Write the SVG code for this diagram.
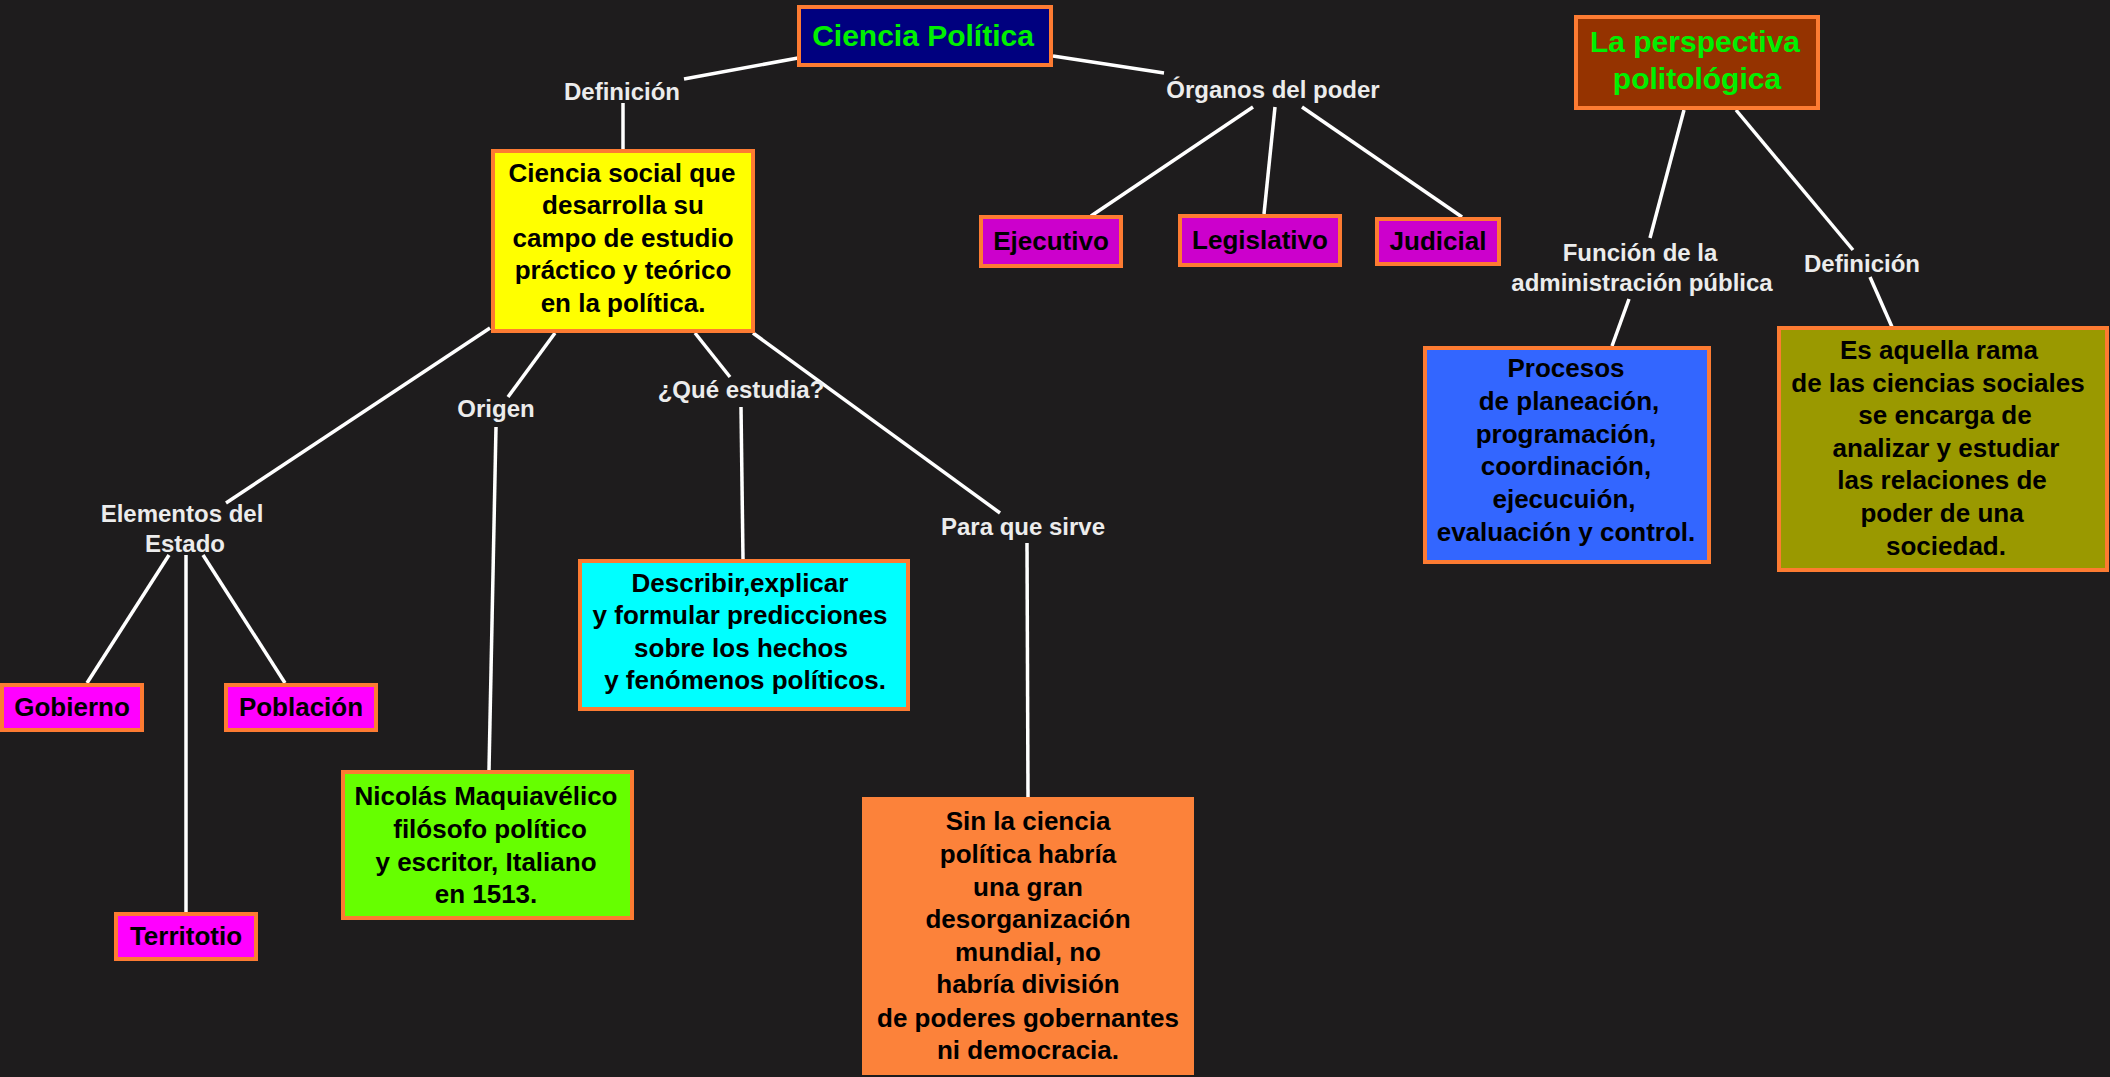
<svg xmlns="http://www.w3.org/2000/svg" width="2110" height="1077" viewBox="0 0 2110 1077">
<style>
.bg{fill:#1e1c1d}
.box{stroke:#fd7b32;stroke-width:4}
.t{font-family:"Liberation Sans",Arial,sans-serif;font-weight:bold;font-size:26px;fill:#000;text-anchor:middle}
.title{font-family:"Liberation Sans",Arial,sans-serif;font-weight:bold;font-size:30px;fill:#00f000;text-anchor:middle}
.lbl{font-family:"Liberation Sans",Arial,sans-serif;font-weight:bold;font-size:24px;fill:#ececec;text-anchor:middle}
.c line{stroke:#fff;stroke-width:3.5;stroke-linecap:butt}
</style>
<rect class="bg" x="0" y="0" width="2110" height="1077"/>
<g class="c" id="connectors">
<line x1="798" y1="58" x2="684" y2="79"/>
<line x1="623" y1="103" x2="623" y2="149"/>
<line x1="1053" y1="56" x2="1164" y2="73"/>
<line x1="1253" y1="107" x2="1091" y2="216"/>
<line x1="1275" y1="107" x2="1264" y2="214"/>
<line x1="1302" y1="107" x2="1462" y2="217"/>
<line x1="1684" y1="110" x2="1650" y2="238"/>
<line x1="1629" y1="299" x2="1612" y2="346"/>
<line x1="1736" y1="110" x2="1853" y2="250"/>
<line x1="1870" y1="277" x2="1892" y2="327"/>
<line x1="490" y1="328" x2="226" y2="503"/>
<line x1="555" y1="333" x2="508" y2="397"/>
<line x1="496" y1="427" x2="489" y2="770"/>
<line x1="695" y1="333" x2="730" y2="377"/>
<line x1="741" y1="407" x2="743" y2="559"/>
<line x1="753" y1="333" x2="1000" y2="513"/>
<line x1="1027" y1="543" x2="1028" y2="797"/>
<line x1="169" y1="555" x2="87" y2="683"/>
<line x1="186" y1="555" x2="186" y2="912"/>
<line x1="203" y1="555" x2="285" y2="683"/>
</g>
<g id="labels">
<text class="lbl" x="622" y="100">Definición</text>
<text class="lbl" x="1273" y="98">Órganos del poder</text>
<text class="lbl" x="1640" y="261">Función de la</text>
<text class="lbl" x="1642" y="291">administración pública</text>
<text class="lbl" x="1862" y="272">Definición</text>
<text class="lbl" x="182" y="522">Elementos del</text>
<text class="lbl" x="185" y="552">Estado</text>
<text class="lbl" x="496" y="417">Origen</text>
<text class="lbl" x="741" y="398">¿Qué estudia?</text>
<text class="lbl" x="1023" y="535">Para que sirve</text>
</g>
<g id="ciencia-politica">
<rect class="box" x="799" y="7" width="252" height="58" fill="#00007f"/>
<text class="title" x="923" y="46">Ciencia Política</text>
</g>
<g id="definicion-box">
<rect class="box" x="493" y="151" width="260" height="180" fill="#ffff00"/>
<text class="t" x="622" y="182">Ciencia social que</text>
<text class="t" x="623" y="214">desarrolla su</text>
<text class="t" x="623" y="247">campo de estudio</text>
<text class="t" x="623" y="279">práctico y teórico</text>
<text class="t" x="623" y="312">en la política.</text>
</g>
<g id="ejecutivo">
<rect class="box" x="981" y="217" width="140" height="49" fill="#cc00cc"/>
<text class="t" x="1051" y="250">Ejecutivo</text>
</g>
<g id="legislativo">
<rect class="box" x="1180" y="216" width="160" height="49" fill="#cc00cc"/>
<text class="t" x="1260" y="249">Legislativo</text>
</g>
<g id="judicial">
<rect class="box" x="1377" y="219" width="122" height="45" fill="#cc00cc"/>
<text class="t" x="1438" y="250">Judicial</text>
</g>
<g id="perspectiva">
<rect class="box" x="1576" y="17" width="242" height="91" fill="#953300"/>
<text class="title" x="1695" y="52">La perspectiva</text>
<text class="title" x="1697" y="89">politológica</text>
</g>
<g id="procesos">
<rect class="box" x="1425" y="348" width="284" height="214" fill="#3366ff"/>
<text class="t" x="1566" y="377">Procesos</text>
<text class="t" x="1569" y="410">de planeación,</text>
<text class="t" x="1566" y="443">programación,</text>
<text class="t" x="1566" y="475">coordinación,</text>
<text class="t" x="1564" y="508">ejecucuión,</text>
<text class="t" x="1566" y="541">evaluación y control.</text>
</g>
<g id="rama">
<rect class="box" x="1779" y="328" width="328" height="242" fill="#9a9900"/>
<text class="t" x="1939" y="359">Es aquella rama</text>
<text class="t" x="1938" y="392">de las ciencias sociales</text>
<text class="t" x="1945" y="424">se encarga de</text>
<text class="t" x="1946" y="457">analizar y estudiar</text>
<text class="t" x="1942" y="489">las relaciones de</text>
<text class="t" x="1942" y="522">poder de una</text>
<text class="t" x="1946" y="555">sociedad.</text>
</g>
<g id="gobierno">
<rect class="box" x="2" y="685" width="140" height="45" fill="#ff00ff"/>
<text class="t" x="72" y="716">Gobierno</text>
</g>
<g id="poblacion">
<rect class="box" x="226" y="685" width="150" height="45" fill="#ff00ff"/>
<text class="t" x="301" y="716">Población</text>
</g>
<g id="territotio">
<rect class="box" x="116" y="914" width="140" height="45" fill="#ff00ff"/>
<text class="t" x="186" y="945">Territotio</text>
</g>
<g id="describir">
<rect class="box" x="580" y="561" width="328" height="148" fill="#00ffff"/>
<text class="t" x="740" y="592">Describir,explicar</text>
<text class="t" x="740" y="624">y formular predicciones</text>
<text class="t" x="741" y="657">sobre los hechos</text>
<text class="t" x="745" y="689">y fenómenos políticos.</text>
</g>
<g id="maquiavelo">
<rect class="box" x="343" y="772" width="289" height="146" fill="#66ff00"/>
<text class="t" x="486" y="805">Nicolás Maquiavélico</text>
<text class="t" x="490" y="838">filósofo político</text>
<text class="t" x="486" y="871">y escritor, Italiano</text>
<text class="t" x="486" y="903">en 1513.</text>
</g>
<g id="para-que-sirve">
<rect x="862" y="797" width="332" height="278" fill="#fc823a"/>
<text class="t" x="1028" y="830">Sin la ciencia</text>
<text class="t" x="1028" y="863">política habría</text>
<text class="t" x="1028" y="896">una gran</text>
<text class="t" x="1028" y="928">desorganización</text>
<text class="t" x="1028" y="961">mundial, no</text>
<text class="t" x="1028" y="993">habría división</text>
<text class="t" x="1028" y="1027">de poderes gobernantes</text>
<text class="t" x="1028" y="1059">ni democracia.</text>
</g>
</svg>
